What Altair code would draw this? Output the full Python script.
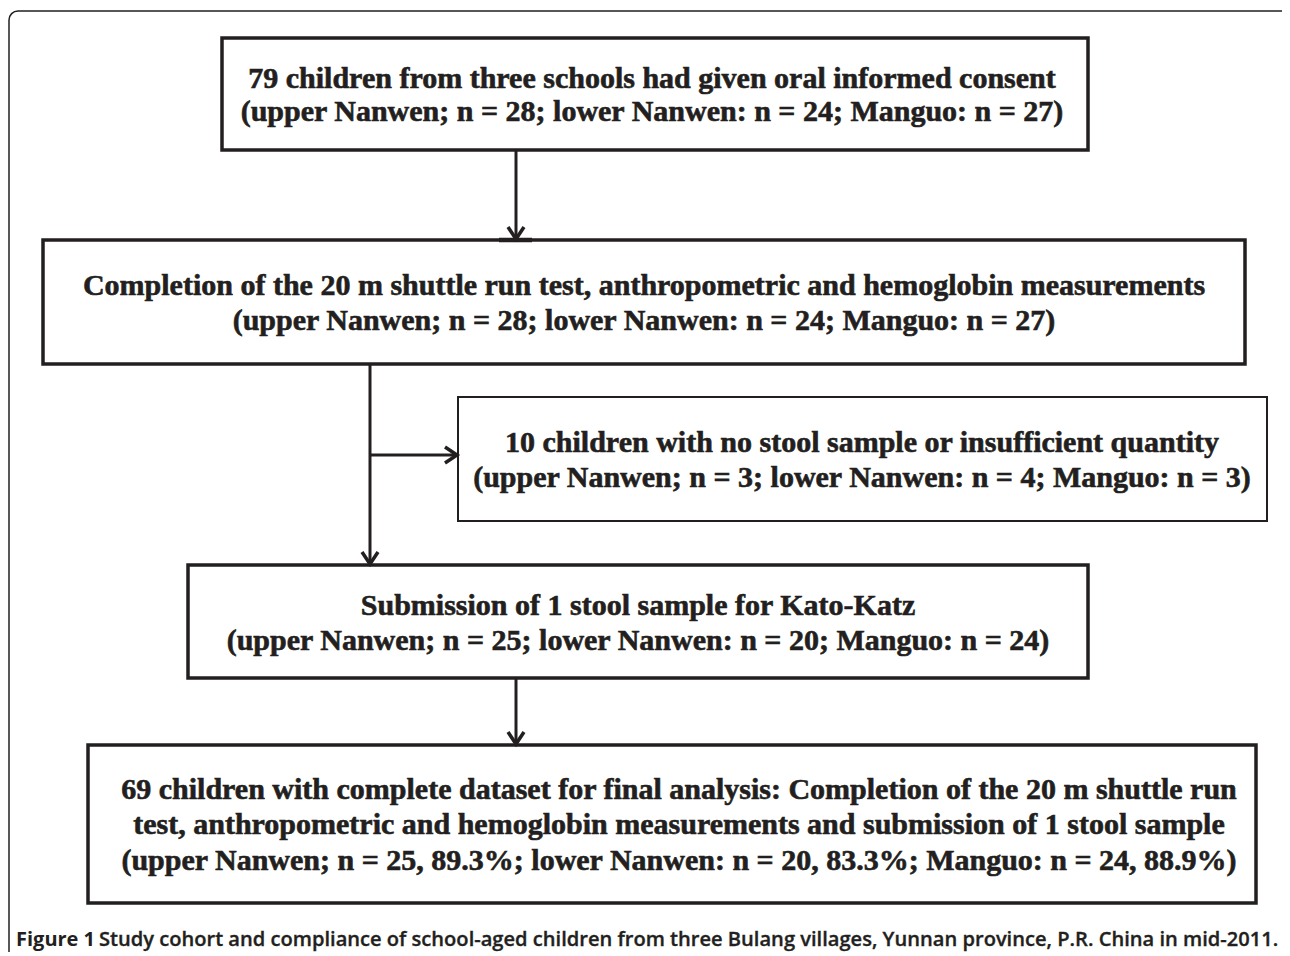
import altair as alt
import pandas as pd

INK = "#231f20"

# ---- flowchart content ----
box_id = ["b1", "b2", "b3", "b4", "b5"]
box_x1 = [222, 43, 458, 188, 88]
box_x2 = [1088, 1245, 1267, 1088, 1256]
box_y1 = [38, 240, 397, 565, 745]
box_y2 = [150, 364, 521, 678, 903]
box_sw = [3.5, 3.5, 2, 3.5, 3.5]

text_box = ["b1", "b1", "b2", "b2", "b3", "b3", "b4", "b4", "b5", "b5", "b5"]
text_lines = [
    "79 children from three schools had given oral informed consent",
    "(upper Nanwen; n = 28; lower Nanwen: n = 24; Manguo: n = 27)",
    "Completion of the 20 m shuttle run test, anthropometric and hemoglobin measurements",
    "(upper Nanwen; n = 28; lower Nanwen: n = 24; Manguo: n = 27)",
    "10 children with no stool sample or insufficient quantity",
    "(upper Nanwen; n = 3; lower Nanwen: n = 4; Manguo: n = 3)",
    "Submission of 1 stool sample for Kato-Katz",
    "(upper Nanwen; n = 25; lower Nanwen: n = 20; Manguo: n = 24)",
    "69 children with complete dataset for final analysis: Completion of the 20 m shuttle run",
    "test, anthropometric and hemoglobin measurements and submission of 1 stool sample",
    "(upper Nanwen; n = 25, 89.3%; lower Nanwen: n = 20, 83.3%; Manguo: n = 24, 88.9%)",
]
text_x = [652, 652, 644, 644, 862, 862, 638, 638, 679, 679, 679]
text_y = [88, 121, 295, 330, 452, 487, 615, 650, 799, 834, 870]

# connector lines
line_x1 = [516, 370, 370, 516]
line_x2 = [516, 370, 456, 516]
line_y1 = [150, 364, 455, 678]
line_y2 = [238, 563, 455, 743]

# arrow heads (tip positions)
head_dir = ["down", "down", "right", "down"]
head_x = [516, 370, 457, 516]
head_y = [239, 564, 455, 744]

caption_bold = "Figure 1"
caption_rest = ("Study cohort and compliance of school-aged children from three Bulang "
                "villages, Yunnan province, P.R. China in mid-2011.")

# ---- build tables ----
boxes = pd.DataFrame({"id": box_id, "x1": box_x1, "x2": box_x2,
                      "y1": box_y1, "y2": box_y2, "sw": box_sw})
texts = pd.DataFrame({"box": text_box, "t": text_lines, "x": text_x, "y": text_y})
lines = pd.DataFrame({"x1": line_x1, "x2": line_x2, "y1": line_y1, "y2": line_y2})
heads = pd.DataFrame({"dir": head_dir, "x": head_x, "y": head_y})
frame = pd.DataFrame({"x1": [9], "x2": [1300], "y1": [11], "y2": [1000]})
caption = pd.DataFrame({"t": [caption_bold, caption_rest], "x": [16, 99], "y": [946, 946],
                        "w": ["bold", "rest"]})
smudge = pd.DataFrame({"x1": [499], "x2": [532], "y1": [240], "y2": [240]})

W, H = 1274, 944
xs = alt.Scale(domain=[8, 8 + W], range=[0, W], nice=False, zero=False)
ys = alt.Scale(domain=[8, 8 + H], range=[0, H], nice=False, zero=False)
X = lambda f: alt.X(f, type="quantitative", scale=xs, axis=None)
Y = lambda f: alt.Y(f, type="quantitative", scale=ys, axis=None)

outer = alt.Chart(frame).mark_rect(fill="white", fillOpacity=0, stroke=INK, strokeWidth=1.5,
                                   cornerRadius=9, clip=True).encode(
    x=X("x1"), x2="x2", y=Y("y1"), y2="y2")

rects = alt.Chart(boxes).mark_rect(fill="white", stroke=INK).encode(
    x=X("x1"), x2="x2", y=Y("y1"), y2="y2",
    strokeWidth=alt.StrokeWidth("sw:Q", scale=None))

rules = alt.Chart(lines).mark_rule(color=INK, strokeWidth=3).encode(
    x=X("x1"), x2="x2", y=Y("y1"), y2="y2")

sm = alt.Chart(smudge).mark_rule(color=INK, strokeWidth=4.5).encode(
    x=X("x1"), x2="x2", y=Y("y1"), y2="y2")

down = alt.Chart(heads).transform_filter(alt.datum.dir == "down").mark_point(
    shape="M-0.8,-1.2L0,0L0.8,-1.2", size=400, filled=False, stroke=INK, strokeWidth=3.5,
    opacity=1).encode(x=X("x"), y=Y("y"))
right = alt.Chart(heads).transform_filter(alt.datum.dir == "right").mark_point(
    shape="M-1.2,-0.8L0,0L-1.2,0.8", size=400, filled=False, stroke=INK, strokeWidth=3.5,
    opacity=1).encode(x=X("x"), y=Y("y"))

words = alt.Chart(texts).mark_text(font="Liberation Serif", fontWeight="bold", fontSize=30,
                                   color=INK, stroke=INK, strokeWidth=0.6,
                                   align="center", baseline="alphabetic").encode(
    x=X("x"), y=Y("y"), text="t")

cap1 = alt.Chart(caption).transform_filter(alt.datum.w == "bold").mark_text(
    font="Open Sans", fontWeight=700, fontSize=20, color=INK, align="left",
    baseline="alphabetic").encode(x=X("x"), y=Y("y"), text="t")
cap2 = alt.Chart(caption).transform_filter(alt.datum.w == "rest").mark_text(
    font="Open Sans", fontWeight=600, fontSize=20.1, color=INK, stroke=INK, strokeWidth=0.35,
    align="left", baseline="alphabetic").encode(x=X("x"), y=Y("y"), text="t")

chart = alt.layer(outer, rects, rules, sm, down, right, words, cap1, cap2).properties(
    width=W, height=H, padding=0, autosize=alt.AutoSizeParams(type="none")
).configure_view(stroke=None)

chart.save("out.html", embed_options={"renderer": "svg", "actions": False})
